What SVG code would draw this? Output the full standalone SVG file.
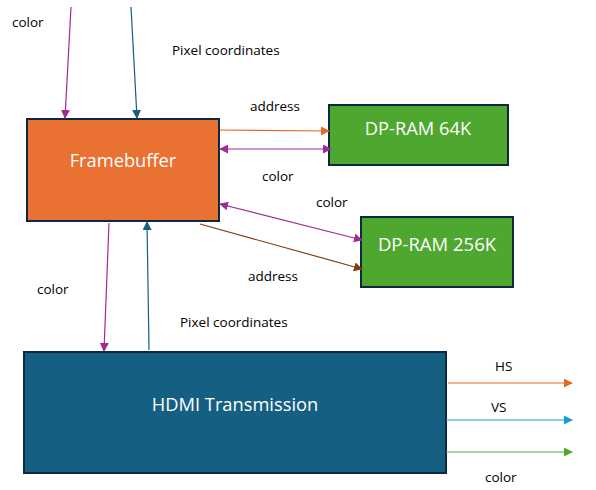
<svg xmlns="http://www.w3.org/2000/svg" width="596" height="490" viewBox="0 0 596 490">
<style>
.box{stroke:#0e2841;stroke-width:2}
.nl{font-family:"Open Sans","Liberation Sans",sans-serif;fill:#fff;text-anchor:middle}
.lb{font-family:"Open Sans","Liberation Sans",sans-serif;font-size:13.5px;fill:#000}
.c{fill:none;stroke-width:1.2}
</style>
<defs>
<marker id="mM" viewBox="0 0 10 10" refX="9" refY="5" markerWidth="9" markerHeight="9" markerUnits="userSpaceOnUse" orient="auto-start-reverse"><path d="M0,0L10,5L0,10z" fill="#a02b93"/></marker>
<marker id="mB" viewBox="0 0 10 10" refX="9" refY="5" markerWidth="9" markerHeight="9" markerUnits="userSpaceOnUse" orient="auto-start-reverse"><path d="M0,0L10,5L0,10z" fill="#156082"/></marker>
<marker id="mO" viewBox="0 0 10 10" refX="9" refY="5" markerWidth="9" markerHeight="9" markerUnits="userSpaceOnUse" orient="auto"><path d="M0,0L10,5L0,10z" fill="#e26b21"/></marker>
<marker id="mR" viewBox="0 0 10 10" refX="9" refY="5" markerWidth="9" markerHeight="9" markerUnits="userSpaceOnUse" orient="auto"><path d="M0,0L10,5L0,10z" fill="#843c0c"/></marker>
<marker id="mC" viewBox="0 0 10 10" refX="9" refY="5" markerWidth="9" markerHeight="9" markerUnits="userSpaceOnUse" orient="auto"><path d="M0,0L10,5L0,10z" fill="#0f9ed5"/></marker>
<marker id="mG" viewBox="0 0 10 10" refX="9" refY="5" markerWidth="9" markerHeight="9" markerUnits="userSpaceOnUse" orient="auto"><path d="M0,0L10,5L0,10z" fill="#4ea72e"/></marker>
</defs>
<rect width="596" height="490" fill="#fff"/>
<g id="framebuffer">
<rect class="box" x="27" y="119" width="192" height="102" fill="#e97132"/>
<text class="nl" x="123" y="167" font-size="18.3">Framebuffer</text>
</g>
<g id="dpram64">
<rect class="box" x="329" y="105" width="179" height="60" fill="#4ea72e"/>
<text class="nl" x="418" y="135" font-size="18.3">DP-RAM 64K</text>
</g>
<g id="dpram256">
<rect class="box" x="361" y="217" width="152" height="70" fill="#4ea72e"/>
<text class="nl" x="437" y="251" font-size="18.5">DP-RAM 256K</text>
</g>
<g id="hdmi">
<rect class="box" x="24" y="352" width="422" height="121" fill="#156082"/>
<text class="nl" x="235" y="411" font-size="18.3">HDMI Transmission</text>
</g>
<g id="connectors">
<line class="c" x1="71" y1="7" x2="65" y2="118" stroke="#a02b93" marker-end="url(#mM)"/>
<line class="c" x1="131" y1="7" x2="137" y2="118" stroke="#156082" marker-end="url(#mB)"/>
<line class="c" x1="220" y1="130" x2="329" y2="131" stroke="#e26b21" marker-end="url(#mO)"/>
<line class="c" x1="220" y1="149" x2="331" y2="149" stroke="#a02b93" marker-start="url(#mM)" marker-end="url(#mM)"/>
<line class="c" x1="220" y1="204" x2="362" y2="240" stroke="#a02b93" marker-start="url(#mM)" marker-end="url(#mM)"/>
<line class="c" x1="200" y1="224" x2="362" y2="269" stroke="#843c0c" marker-end="url(#mR)"/>
<line class="c" x1="109" y1="223" x2="104" y2="351" stroke="#a02b93" marker-end="url(#mM)"/>
<line class="c" x1="149" y1="350" x2="147" y2="222" stroke="#156082" marker-end="url(#mB)"/>
<line class="c" x1="448" y1="383" x2="572" y2="383" stroke="#e26b21" marker-end="url(#mO)"/>
<line class="c" x1="446" y1="420" x2="572" y2="420" stroke="#0f9ed5" marker-end="url(#mC)"/>
<line class="c" x1="446" y1="452" x2="572" y2="452" stroke="#4ea72e" marker-end="url(#mG)"/>
</g>
<g id="labels">
<text class="lb" x="12" y="27">color</text>
<text class="lb" x="172" y="55">Pixel coordinates</text>
<text class="lb" x="250" y="111">address</text>
<text class="lb" x="262" y="181">color</text>
<text class="lb" x="316" y="207">color</text>
<text class="lb" x="248" y="281">address</text>
<text class="lb" x="37" y="294">color</text>
<text class="lb" x="180" y="327">Pixel coordinates</text>
<text class="lb" x="495" y="371">HS</text>
<text class="lb" x="491" y="412">VS</text>
<text class="lb" x="485" y="482">color</text>
</g>
</svg>
